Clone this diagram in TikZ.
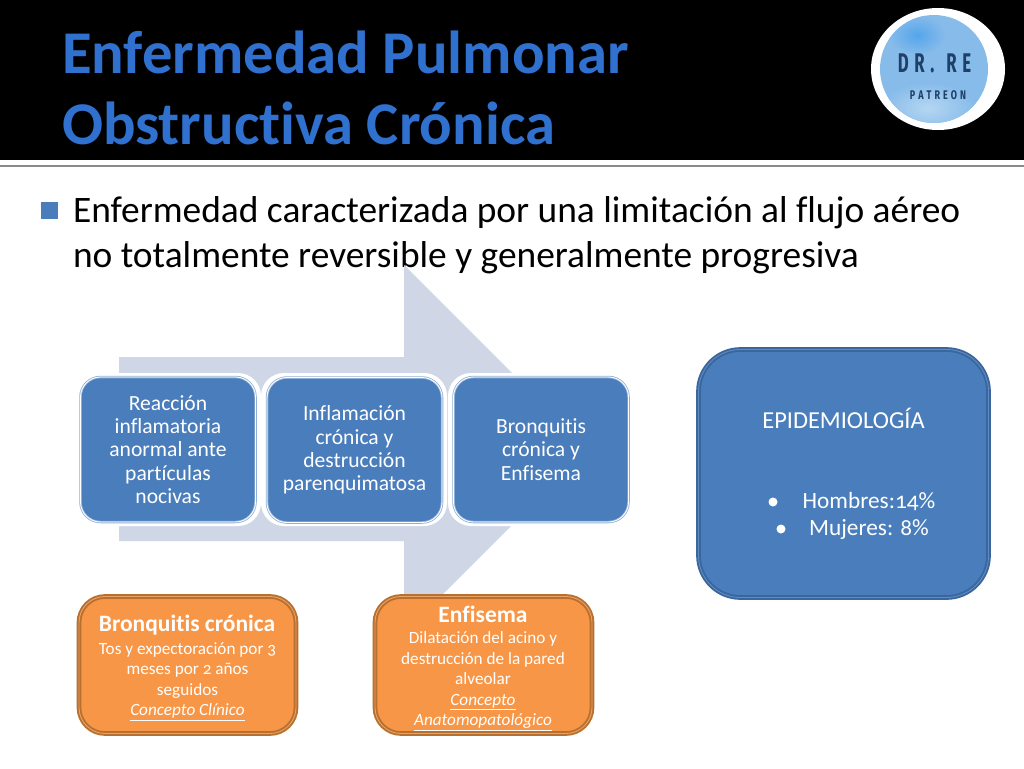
\documentclass[tikz,border=0pt]{standalone}
\usepackage{fontspec}
\usepackage{graphicx}
\setmainfont[Numbers=OldStyle,Ligatures=NoCommon]{Carlito}
\newfontfamily\bebas{Fira Sans}
\usetikzlibrary{shapes.misc}
\definecolor{titleblue}{HTML}{3071D0}
\definecolor{bluefill}{HTML}{4A7DBB}
\definecolor{blueedge}{HTML}{3A669E}
\definecolor{blueinner}{HTML}{5F8BC2}
\definecolor{halo}{HTML}{8FB0D6}
\definecolor{arrowfill}{HTML}{CFD7E7}
\definecolor{orangefill}{HTML}{F79646}
\definecolor{orangeedge}{HTML}{B9702F}
\definecolor{orangeinner}{HTML}{E8A266}
\definecolor{logoblue}{HTML}{86BBEA}
\definecolor{logodeep}{HTML}{55A5EC}
\definecolor{logopale}{HTML}{B5D6F2}
\definecolor{logotext}{HTML}{1F3F66}
\definecolor{rulegrey}{HTML}{8A8A8A}
\tikzset{
  every node/.style={inner sep=0pt,outer sep=0pt},
  stepbox/.style={rectangle,rounded corners=20,fill=bluefill,draw=halo,line width=0.8,double=white,double distance=0.9,
     text=white,align=center,font=\fontsize{21.6}{23.3}\selectfont},
  orangebox/.style={rectangle,rounded corners=26,fill=orangefill,draw=orangeedge,line width=1.9,double=orangeinner,double distance=0.9,
     text=white,align=center},
  epibox/.style={rectangle,rounded corners=42,fill=bluefill,draw=blueedge,line width=1.9,double=blueinner,double distance=0.9,
     text=white,align=center},
  titletext/.style={text=titleblue,anchor=base west,font=\fontsize{60.7}{64}\bfseries\selectfont},
  bodytext/.style={text=black,anchor=base west,font=\fontsize{37.4}{42}\selectfont},
  epitext/.style={text=white,font=\fontsize{23.3}{26}\selectfont},
  ohead/.style={text=white,font=\fontsize{23.5}{26}\bfseries\selectfont},
  obody/.style={text=white,align=center,anchor=north,font=\fontsize{17.2}{20.4}\selectfont},
}
\begin{document}
\begin{tikzpicture}[x=1pt,y=-1pt]
\useasboundingbox (0,0) rectangle (1024,768);
\fill[white] (0,0) rectangle (1024,768);
\fill[black] (0,0) rectangle (1024,160);
\fill[rulegrey] (0,165) rectangle (1024,167);
% title
\node[titletext] (t1) at (62,73) {Enfermedad Pulmonar};
\node[titletext] (t2) at (62,144) {Obstructiva Crónica};
% logo
\fill[white] (938,69) ellipse (67 and 61);
\fill[logoblue] (934,69) ellipse (54 and 54);
\begin{scope}
\clip (934,69) ellipse (54 and 54);
\shade[inner color=logopale,outer color=logoblue] (928,108) ellipse (48 and 26);
\shade[inner color=logodeep,outer color=logoblue] (917,35) ellipse (28 and 20);
\end{scope}
\node[text=logotext,font=\fontsize{27}{27}\bfseries\bebas] (l1) at (934.5,63) {\scalebox{0.62}[1]{D\,\,R\,\,.\;\;\,R\,\,E}};
\node[text=logotext,font=\fontsize{12.5}{12.5}\bfseries\bebas] (l2) at (938,95) {\scalebox{0.72}[1]{P\,\,A\,\,T\,\,R\,\,E\,\,O\,\,N}};
% body
\fill[bluefill] (41,202) rectangle (58,219);
\node[bodytext] (b1) at (73,222.5) {Enfermedad caracterizada por una limitación al flujo aéreo};
\node[bodytext] (b2) at (73,267.5) {no totalmente reversible y generalmente progresiva};
% big arrow
\fill[arrowfill] (119,357) -- (404,357) -- (404,265) -- (588,449) -- (404,633) -- (404,541) -- (119,541) -- cycle;
% step boxes
\foreach \cx/\n in {168/a,354/b,541/c}{
  \fill[white,rounded corners=23] (\cx-93,373) rectangle (\cx+93,526);
}
\node[stepbox,minimum width=175,minimum height=145] (s1) at (168,449.5) {Reacción\\inflamatoria\\anormal ante\\partículas\\nocivas};
\node[stepbox,minimum width=175,minimum height=145] (s2) at (354.5,450) {Inflamación\\crónica y\\destrucción\\parenquimatosa};
\node[stepbox,minimum width=175,minimum height=145] (s3) at (541,449.5) {Bronquitis\\crónica y\\Enfisema};
% epidemiology
\node[epibox,minimum width=290,minimum height=248] (e) at (843.5,473.5) {};
\node[text=white,font=\fontsize{24.4}{27}\selectfont] (e1) at (843.5,418) {EPIDEMIOLOGÍA};
\fill[white] (773,502) circle (4.5);
\node[epitext] (e2) at (869,502) {Hombres:14\%};
\fill[white] (781,529) circle (4.5);
\node[epitext] (e3) at (869,529) {Mujeres: 8\%};
% orange boxes
\node[orangebox,minimum width=217,minimum height=137] (o1) at (187.5,665) {};
\node[ohead] (o1t) at (187,625) {Bronquitis crónica};
\node[obody] (o1b) at (187.5,642.5) {Tos y expectoración por 3\\meses por 2 años\\seguidos\\\textit{\underline{Concepto Clínico}}};
\node[orangebox,minimum width=217,minimum height=137] (o2) at (483.5,665) {};
\node[ohead] (o2t) at (483,614) {Enfisema};
\node[obody] (o2b) at (483,632) {Dilatación del acino y\\destrucción de la pared\\alveolar\\\textit{\underline{Concepto}}\\\textit{\underline{Anatomopatológico}}};
\end{tikzpicture}
\end{document}
